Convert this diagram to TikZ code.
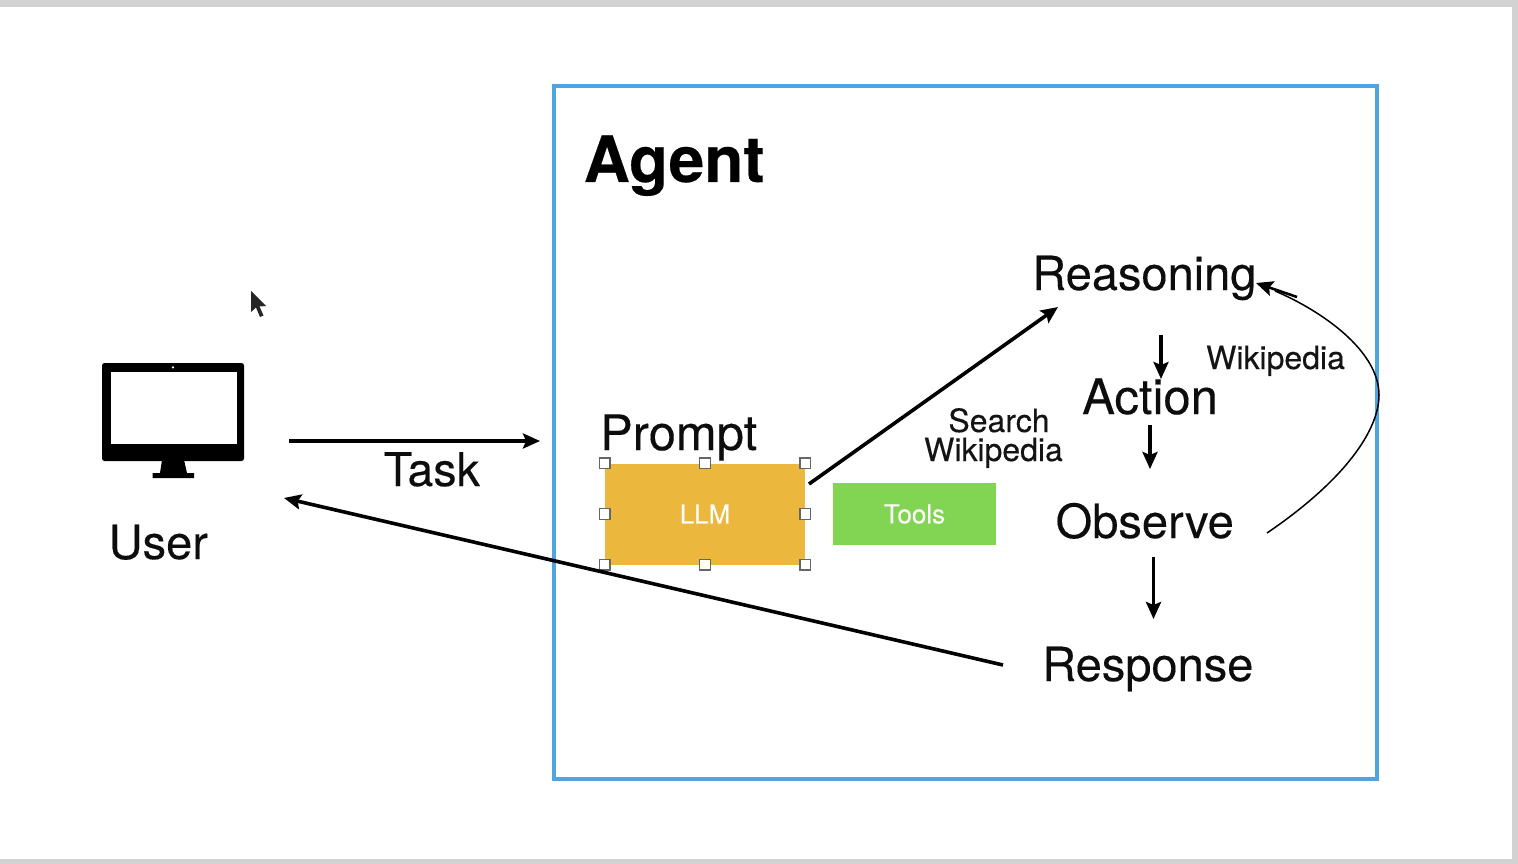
\documentclass[tikz,border=0pt]{standalone}
\usepackage{fontspec}
\setmainfont[FakeBold=0.22,BoldFont={TeX Gyre Heros Bold},BoldFeatures={FakeBold=0.3}]{TeX Gyre Heros}
\usetikzlibrary{arrows.meta}
\definecolor{frameblue}{HTML}{4FA5E2}
\definecolor{llmfill}{HTML}{EBB83D}
\definecolor{toolfill}{HTML}{82D552}
\definecolor{pagegray}{HTML}{D2D2D2}
\definecolor{handleedge}{HTML}{666666}
\tikzset{
  x=1pt,y=-1pt,
  lbl/.style={inner sep=0pt,anchor=base west,text=black!95,font=\fontsize{#1}{50}\selectfont},
  lbl/.default=47,
  small/.style={inner sep=0pt,align=center,text=black!92,font=\fontsize{32}{30}\selectfont},
  box/.style={inner sep=0pt,text=white,font=\fontsize{26}{30}\selectfont},
  arr/.style={draw=black,line width=3.6pt,-{Stealth[length=17pt,width=15pt,inset=3pt]}},
  handle/.style={draw=handleedge,fill=white,line width=1.3pt,minimum size=10.5pt,inner sep=0pt,rectangle},
}
\begin{document}
\begin{tikzpicture}
\useasboundingbox (0,0) rectangle (1518,864);
\fill[pagegray] (0,0) rectangle (1518,864);
\fill[white] (0,7) rectangle (1512,859);
% agent frame
\node[draw=frameblue,line width=4pt,minimum width=823pt,minimum height=693pt,inner sep=0pt] (agent) at (965.5,432.5) {};
\node[inner sep=0pt,anchor=base west,font=\fontsize{64}{66}\bfseries\selectfont] (agentlabel) at (583.5,182) {Agent};
% monitor
\fill[black,rounded corners=2.5pt] (102,363) rectangle (244,461);
\fill[white] (110.5,372) rectangle (236.7,444);
\fill[white] (173,367.4) circle (1.2pt);
\fill[black] (162,460) -- (184,460) -- (187,473) -- (194,473) -- (194,478) -- (152.5,478) -- (152.5,473) -- (160,473) -- cycle;
\node[lbl=47] (user) at (108.5,559) {User};
% cursor
\fill[black!85] (251,291) -- (251,312) -- (256,307.5) -- (260,317) -- (263.5,315.5) -- (259.5,306.5) -- (266,306) -- cycle;
% labels
\node[lbl=46.5] (task) at (383.5,486) {Task};
\node[lbl=48.8] (prompt) at (600,450) {Prompt};
\node[lbl] (reasoning) at (1032,290) {Reasoning};
\node[lbl=49] (action) at (1082,414) {Action};
\node[lbl] (observe) at (1055.5,538) {Observe};
\node[lbl] (response) at (1042,681) {Response};
\node[small,anchor=base west] (wiki) at (1206,369) {Wikipedia};
\node[small,anchor=base] (search) at (999,432) {Search};
\node[small,anchor=base] (searchwiki) at (993.5,461) {Wikipedia};
% boxes
\node[box,fill=llmfill,minimum width=200pt,minimum height=101pt] (llm) at (705,514) {LLM};
\node[box,fill=toolfill,minimum width=163pt,minimum height=62pt] (tools) at (914.5,514) {Tools};
\foreach \a in {north west,north,north east,west,east,south west,south,south east}
  \node[handle] at (llm.\a) {};
% connector ends
\coordinate (taskA) at (289,441);
\coordinate (taskB) at (540,441);
\coordinate (backA) at (1003,665);
\coordinate (backB) at (284,498);
\coordinate (upA) at (809,484);
\coordinate (upB) at (1058,307);
\coordinate (r1) at (1161,335);
\coordinate (a1) at (1161,379);
\coordinate (a2) at (1150,425);
\coordinate (o1) at (1150,469);
\coordinate (o2) at (1153.5,557);
\coordinate (p1) at (1153.5,619);
\coordinate (curveA) at (1267,533);
\coordinate (curveB) at (1256,283);
\coordinate (hookA) at (1297,297);
% connectors
\draw[arr] (taskA) -- (taskB);
\draw[arr] (backA) -- (backB);
\draw[arr] (upA) -- (upB);
\draw[arr] (r1) -- (a1);
\draw[arr] (a2) -- (o1);
\draw[arr] (o2) -- (p1);
\draw[black,line width=1.5pt] (curveA) .. controls (1345,480) and (1379,430) .. (1379,395)
   .. controls (1379,350) and (1320,310) .. (1275,291);
\draw[arr,line width=2.6pt] (hookA) -- (curveB);
\end{tikzpicture}
\end{document}
